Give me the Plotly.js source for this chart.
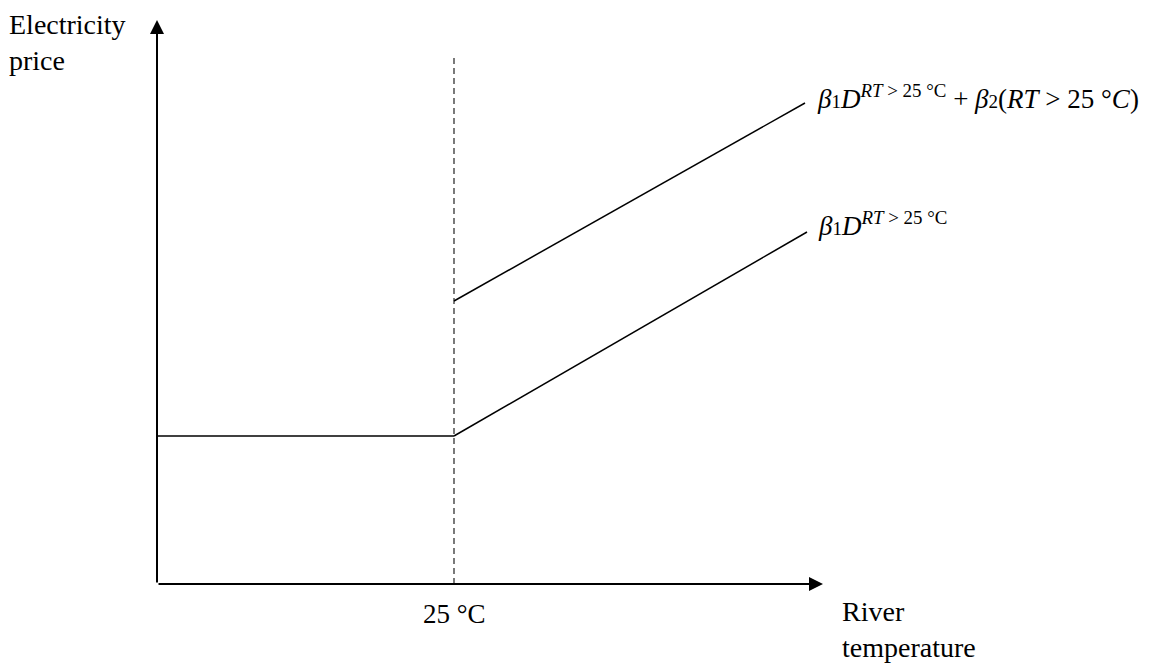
<!DOCTYPE html>
<html>
<head>
<meta charset="utf-8">
<script src="https://cdn.plot.ly/plotly-3.0.1.min.js"></script>
<style>html,body{margin:0;padding:0;background:#fff;}#chart{width:1158px;height:667px;}</style>
</head>
<body>
<div id="chart"></div>
<script>
// Schematic values (arbitrary units)
const axisMaxX = 666;
const axisMaxY = 564;
const thresholdX = [297, 297];
const thresholdY = [0, 526];
const baseX = [0, 297];
const baseY = [148, 148];
const lowerX = [297, 650];
const lowerY = [148, 352];
const upperX = [297, 648];
const upperY = [283, 481];
const thresholdLabel = '25 °C';
const xLabel = 'River<br>temperature';
const yLabel = 'Electricity<br>price';
const lowerLabel = '<i>β</i><span style="font-size:19px">1</span><i>D</i><sup><i>RT</i> &gt; 25 °C</sup>';
const upperLabel = '<i>β</i><span style="font-size:19px">1</span><i>D</i><sup><i>RT</i> &gt; 25 °C</sup> + <i>β</i><span style="font-size:19px">2</span>(<i>RT</i> &gt; 25 °<i>C</i>)';

const FONT = 'Liberation Serif, Times New Roman, serif';
const lineStyle = {color: '#000', width: 1.5};

const traces = [
  {x: thresholdX, y: thresholdY, mode: 'lines', line: {color: '#333', width: 1.3, dash: '6px,4px'}, hoverinfo: 'skip'},
  {x: baseX, y: baseY, mode: 'lines', line: lineStyle, hoverinfo: 'skip'},
  {x: lowerX, y: lowerY, mode: 'lines', line: lineStyle, hoverinfo: 'skip'},
  {x: upperX, y: upperY, mode: 'lines', line: lineStyle, hoverinfo: 'skip'}
];

const arrowCommon = {text: '', showarrow: true, arrowhead: 2, arrowsize: 1.4, arrowwidth: 2, arrowcolor: '#000', axref: 'x', ayref: 'y', standoff: 0, startstandoff: 0};

const annotations = [
  Object.assign({x: axisMaxX, y: 0, ax: 0, ay: 0}, arrowCommon),
  Object.assign({x: 0, y: axisMaxY, ax: 0, ay: 0}, arrowCommon),
  {x: upperX[1], y: upperY[1], text: upperLabel, showarrow: false, xanchor: 'left', yanchor: 'middle', xshift: 10, yshift: 6, font: {family: FONT, size: 27, color: '#000'}},
  {x: lowerX[1], y: lowerY[1], text: lowerLabel, showarrow: false, xanchor: 'left', yanchor: 'middle', xshift: 9, yshift: 8, font: {family: FONT, size: 27, color: '#000'}},
  {x: thresholdX[0], y: 0, text: thresholdLabel, showarrow: false, xanchor: 'center', yanchor: 'middle', yshift: -30, font: {family: FONT, size: 27, color: '#000'}},
  {x: axisMaxX, y: 0, text: xLabel, showarrow: false, xanchor: 'left', yanchor: 'middle', align: 'left', xshift: 17, yshift: -45, font: {family: FONT, size: 28, color: '#000'}},
  {x: 0, y: axisMaxY, text: yLabel, showarrow: false, xanchor: 'left', yanchor: 'middle', align: 'left', xshift: -150, yshift: -22, font: {family: FONT, size: 28, color: '#000'}}
];

const layout = {
  width: 1158, height: 667,
  margin: {l: 157, r: 335, t: 20, b: 83, pad: 0},
  paper_bgcolor: '#fff', plot_bgcolor: '#fff',
  showlegend: false,
  xaxis: {range: [0, axisMaxX], visible: false, fixedrange: true},
  yaxis: {range: [0, axisMaxY], visible: false, fixedrange: true},
  annotations: annotations
};

Plotly.newPlot('chart', traces, layout, {staticPlot: true, displayModeBar: false});
</script>
</body>
</html>
